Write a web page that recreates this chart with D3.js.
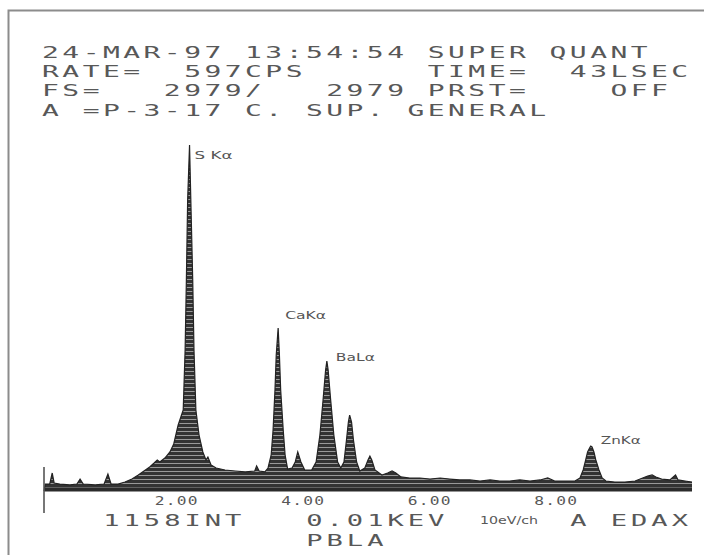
<!DOCTYPE html>
<html>
<head>
<meta charset="utf-8">
<script src="https://cdn.jsdelivr.net/npm/d3@7"></script>
<style>
  html, body { margin: 0; padding: 0; background: #ffffff; }
  svg { display: block; }
</style>
</head>
<body>
<svg id="chart" width="704" height="555"></svg>
<script>
// ---------------- DATA ----------------
const headerLines = [
  "24-MAR-97 13:54:54 SUPER QUANT",
  "RATE=  597CPS      TIME=  43LSEC",
  "FS=   2979/   2979 PRST=    OFF",
  "A =P-3-17 C. SUP. GENERAL"
];
const footerLines = [
  "   1158INT   0.01KEV      A EDAX",
  "             PBLA"
];
const channelWidthLabel = "10eV/ch";
const fullScaleCounts = 2979;
const energyMaxKeV = 10.24;

const tickValues = [2, 4, 6, 8];
const tickLabels = ["2.00", "4.00", "6.00", "8.00"];

const peakNames = ["S Kα", "CaKα", "BaLα", "ZnKα"];
const peakKeV = [2.30, 3.70, 4.47, 8.64];
const peakCounts = [2979, 1403, 1119, 387];

// spectrum trace (energy keV, counts)
const spectrumKeV = [
  0.00, 0.02, 0.09, 0.13, 0.16, 0.25, 0.41, 0.52, 0.57, 0.62, 0.81, 0.95, 1.01, 1.06, 1.17,
  1.28, 1.39, 1.49, 1.58, 1.67, 1.74, 1.79, 1.83, 1.91, 1.99, 2.05, 2.12, 2.20, 2.23, 2.25,
  2.27, 2.30, 2.32, 2.35, 2.37, 2.40, 2.45, 2.51, 2.56, 2.59, 2.64, 2.72, 2.86, 3.02, 3.18,
  3.33, 3.36, 3.40, 3.49, 3.54, 3.59, 3.62, 3.65, 3.67, 3.70, 3.72, 3.74, 3.78, 3.81, 3.85,
  3.92, 3.97, 4.01, 4.06, 4.12, 4.23, 4.30, 4.36, 4.41, 4.45, 4.47, 4.49, 4.53, 4.58, 4.64,
  4.69, 4.74, 4.78, 4.81, 4.83, 4.86, 4.89, 4.94, 4.99, 5.07, 5.12, 5.15, 5.18, 5.23, 5.34,
  5.43, 5.50, 5.56, 5.64, 5.78, 5.94, 6.10, 6.26, 6.41, 6.57, 6.73, 6.89, 7.05, 7.20, 7.36,
  7.52, 7.68, 7.84, 7.96, 8.07, 8.23, 8.39, 8.47, 8.52, 8.56, 8.59, 8.63, 8.64, 8.66, 8.69,
  8.72, 8.77, 8.82, 8.88, 9.02, 9.18, 9.34, 9.46, 9.54, 9.61, 9.67, 9.76, 9.89, 9.98, 10.02,
  10.13, 10.24
];
const spectrumCounts = [
  0, 60, 60, 155, 69, 60, 52, 60, 103, 60, 52, 60, 146, 60, 60,
  77, 103, 138, 172, 207, 241, 267, 250, 284, 336, 405, 568, 697, 1214, 1817,
  2506, 2979, 2506, 1817, 1214, 697, 482, 336, 267, 293, 224, 198, 181, 172, 164,
  172, 215, 172, 164, 198, 310, 525, 870, 1171, 1403, 1171, 870, 525, 310, 189,
  198, 250, 336, 250, 181, 181, 250, 482, 784, 1042, 1119, 1042, 784, 482, 250,
  198, 250, 439, 594, 654, 594, 439, 250, 172, 198, 267, 301, 267, 181, 138,
  155, 172, 155, 121, 112, 112, 103, 112, 103, 95, 95, 86, 95, 86, 86,
  95, 86, 95, 112, 86, 86, 86, 112, 181, 267, 336, 379, 387, 379, 336,
  267, 181, 112, 86, 77, 77, 86, 112, 129, 138, 121, 103, 95, 138, 95,
  86, 77
];

// ---------------- LAYOUT / STYLE ----------------
const svg = d3.select("#chart");
const ink = "#585858";
const monoFont = "'DejaVu Sans Mono', 'Liberation Mono', monospace";
const gridX0 = 43, pitch = 20.3, cellHalf = 7.5, stretch = 1.75;

const x = d3.scaleLinear().domain([0, energyMaxKeV]).range([44, 692]);
const y = d3.scaleLinear().domain([0, fullScaleCounts]).range([491, 145]);

// frame
svg.append("rect")
  .attr("x", 8.5).attr("y", 10.5).attr("width", 720).attr("height", 600)
  .attr("fill", "none").attr("stroke", "#8c8c8c").attr("stroke-width", 2);

// hatch pattern for spectrum fill
const defs = svg.append("defs");
const pat = defs.append("pattern").attr("id", "hatch")
  .attr("patternUnits", "userSpaceOnUse").attr("width", 4).attr("height", 4);
pat.append("rect").attr("width", 4).attr("height", 4).attr("fill", "#333333");
pat.append("rect").attr("y", 3).attr("width", 4).attr("height", 1).attr("fill", "#999999");

// monospaced plotter-style line: each word its own text, glyphs placed in column cells
function gridText(str, baseline, size) {
  const re = /\S+/g;
  let m;
  while ((m = re.exec(str)) !== null) {
    const word = m[0], col0 = m.index;
    const xs = Array.from(word).map((c, k) =>
      ((gridX0 + (col0 + k) * pitch + cellHalf) / stretch).toFixed(2));
    svg.append("text")
      .attr("transform", `translate(0,${baseline}) scale(${stretch},1)`)
      .attr("x", xs.join(" ")).attr("y", 0)
      .attr("text-anchor", "middle")
      .attr("font-family", monoFont).attr("font-size", size)
      .attr("fill", ink)
      .text(word);
  }
}

const headerBaselines = [58, 77, 96, 115.5];
headerLines.forEach((l, i) => gridText(l, headerBaselines[i], 16));

// spectrum
const pts = spectrumKeV.map((e, i) => [e, spectrumCounts[i]]);
const area = d3.area().x(d => x(d[0])).y0(y(0)).y1(d => y(d[1]));
const line = d3.line().x(d => x(d[0])).y(d => y(d[1]));
svg.append("path").datum(pts).attr("d", area).attr("fill", "url(#hatch)");
svg.append("path").datum(pts).attr("d", line)
  .attr("fill", "none").attr("stroke", "#222").attr("stroke-width", 1.2);
// baseline band
svg.append("line").attr("x1", x(0)).attr("x2", x(energyMaxKeV))
  .attr("y1", y(0) - 1.5).attr("y2", y(0) - 1.5)
  .attr("stroke", "#2b2b2b").attr("stroke-width", 4);

// left zero marker
svg.append("line").attr("x1", x(0)).attr("x2", x(0))
  .attr("y1", 467).attr("y2", 513)
  .attr("stroke", "#555").attr("stroke-width", 1.6);

// tick labels, decimal point aligned to the value
tickValues.forEach((v, i) => {
  const cx = x(v);
  const chars = Array.from(tickLabels[i]);
  const xs = chars.map((c, k) => ((cx + (k - 1) * 11) / 1.3).toFixed(2));
  svg.append("text")
    .attr("transform", `translate(0,505) scale(1.3,1)`)
    .attr("x", xs.join(" ")).attr("y", 0)
    .attr("text-anchor", "middle")
    .attr("font-family", monoFont).attr("font-size", 12.5)
    .attr("fill", ink)
    .text(tickLabels[i]);
});

// footer
gridText(footerLines[0], 526, 15.5);
gridText(footerLines[1], 546, 15.5);
svg.append("text")
  .attr("x", 480).attr("y", 524)
  .attr("font-family", "'DejaVu Sans', sans-serif").attr("font-size", 11)
  .attr("textLength", 58).attr("lengthAdjust", "spacingAndGlyphs")
  .attr("fill", ink).text(channelWidthLabel);

// peak labels
const labelDx = [5, 7, 9, 10];
const labelDy = [14, -9, 0, -2];
const labelW = [38, 41, 39, 40];
peakNames.forEach((n, i) => {
  svg.append("text")
    .attr("x", x(peakKeV[i]) + labelDx[i])
    .attr("y", y(peakCounts[i]) + labelDy[i])
    .attr("font-family", "'DejaVu Sans', sans-serif").attr("font-size", 11)
    .attr("textLength", labelW[i]).attr("lengthAdjust", "spacingAndGlyphs")
    .attr("fill", "#555").text(n);
});
</script>
</body>
</html>
